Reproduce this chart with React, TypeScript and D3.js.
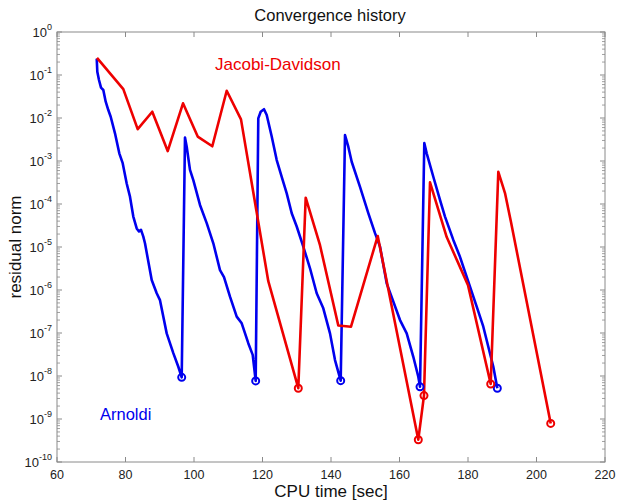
import React from "react";
import * as d3 from "d3";

// ---------- data ----------
const arnoldiTime = [
  71.6, 71.77, 72.26, 72.85, 73.52, 74.22, 74.98, 75.68, 76.93, 78.19, 79.18, 80.35, 81.31, 82.28, 83.27, 83.94, 84.53, 85.2, 85.69, 87.65, 89.11, 90.07, 92.03, 93.96, 95.42, 96.41,
  97.37, 97.87, 98.83, 99.8, 101.75, 103.71, 105.64, 107.59, 108.76, 110.51, 112.47, 113.93, 115.85, 117.14, 118.01,
  118.77, 119.47, 120.44, 121.23, 122.69, 124.15, 125.61, 127.07, 128.53, 129.99, 131.91, 133.87, 135.82, 137.75, 139.71, 141.17, 142.83,
  144.09, 145.05, 146.04, 148.47, 150.89, 152.85, 154.31, 156.26, 160.15, 162.1, 164.03, 165.49, 165.99,
  167.24, 167.94, 169.87, 171.82, 173.28, 175.71, 177.66, 180.58, 182.54, 184.47, 185.93, 187.39, 188.56,
];
const arnoldiResidual = [
  0.24, 0.119, 0.0766, 0.0507, 0.0448, 0.0239, 0.0153, 0.0107, 4.4e-3, 1.51e-3, 8.9e-4, 3.0e-4, 1.48e-4, 5.1e-5, 2.7e-5, 2.3e-5, 2.5e-5, 1.74e-5, 1.22e-5, 1.71e-6, 8.4e-7, 5.8e-7, 9.8e-8, 3.4e-8, 1.64e-8, 9.3e-9,
  3.5e-3, 2.15e-3, 6.2e-4, 3.6e-4, 9.5e-5, 3.6e-5, 1.22e-5, 2.9e-6, 2.0e-6, 7.0e-7, 2.4e-7, 1.68e-7, 5.8e-8, 3.1e-8, 7.7e-9,
  9.8e-3, 1.4e-2, 1.6e-2, 1.17e-2, 3.7e-3, 1.05e-3, 4.3e-4, 1.77e-4, 6.1e-5, 3.0e-5, 1.02e-5, 3.2e-6, 8.4e-7, 3.75e-7, 9.8e-8, 2.35e-8, 7.8e-9,
  4.0e-3, 2.15e-3, 9.6e-4, 2.5e-4, 6.1e-5, 2.1e-5, 1.02e-5, 1.43e-6, 2.0e-7, 9.8e-8, 2.8e-8, 9.6e-9, 5.6e-9,
  2.6e-3, 1.51e-3, 4.3e-4, 1.24e-4, 5.1e-5, 1.46e-5, 5.9e-6, 1.19e-6, 4.1e-7, 1.4e-7, 4.8e-8, 1.64e-8, 5.2e-9,
];
// indices of converged eigenpairs (marked with circles)
const arnoldiConverged = [25, 40, 57, 70, 83];

const jdTime = [
  71.68, 79.36, 83.56, 87.82, 92.32, 96.79, 101.08, 105.34, 109.55, 113.72, 121.69, 130.45, 132.61, 136.79, 142.13, 145.84,
  153.64, 165.49, 167.15, 168.91, 173.78, 180.0, 186.63, 188.85, 190.8, 192.55, 204.15,
];
const jdResidual = [
  0.25, 0.047, 5.5e-3, 1.4e-2, 1.7e-3, 2.2e-2, 3.7e-3, 2.2e-3, 4.3e-2, 9.3e-3, 1.6e-6, 5.2e-9, 1.4e-4, 1.1e-5, 1.5e-7, 1.4e-7,
  1.8e-5, 3.3e-10, 3.5e-9, 3.2e-4, 1.7e-5, 1.3e-6, 6.5e-9, 5.6e-4, 1.8e-4, 3.8e-5, 7.9e-10,
];
const jdConverged = [11, 17, 18, 22, 26];

const xTicks = [60, 80, 100, 120, 140, 160, 180, 200, 220];
const yExponents = [0, -1, -2, -3, -4, -5, -6, -7, -8, -9, -10];

const titleText = "Convergence history";
const xLabel = "CPU time [sec]";
const yLabel = "residual norm";
const jdLabel = "Jacobi-Davidson";
const arnoldiLabel = "Arnoldi";

// ---------- chart ----------
const W = 618;
const H = 501;
const L = 57, R = 605, T = 32, B = 462;
const BLUE = "#0000ee";
const RED = "#ee0000";
const AXIS = "#8a8a8a";
const FONT = "'Liberation Sans', Arial, Helvetica, sans-serif";

export default function App() {
  const x = d3.scaleLinear().domain([60, 220]).range([L, R]);
  const y = d3.scaleLog().domain([1e-10, 1]).range([B, T]);

  const line = d3
    .line<[number, number]>()
    .x((d) => x(d[0]))
    .y((d) => y(d[1]));

  const blueData: [number, number][] = arnoldiTime.map((t, i) => [t, arnoldiResidual[i]]);
  const redData: [number, number][] = jdTime.map((t, i) => [t, jdResidual[i]]);

  const minor: number[] = [];
  for (let e = -10; e < 0; e++) {
    for (let m = 2; m <= 9; m++) minor.push(m * Math.pow(10, e));
  }

  return (
    <div style={{ position: "absolute", left: 0, top: 0 }}>
      <svg width={W} height={H} style={{ display: "block", background: "#fff" }} fontFamily={FONT}>
        <rect x={0} y={0} width={W} height={H} fill="#fff" />
        {/* frame */}
        <rect x={L} y={T} width={R - L} height={B - T} fill="none" stroke={AXIS} strokeWidth={1} />
        {/* x ticks */}
        {xTicks.map((t) => (
          <g key={"xt" + t}>
            <line x1={x(t)} x2={x(t)} y1={B} y2={B - 5} stroke={AXIS} />
            <line x1={x(t)} x2={x(t)} y1={T} y2={T + 5} stroke={AXIS} />
            <text x={x(t)} y={B + 17} textAnchor="middle" fontSize={12.5} fill="#222">
              {t}
            </text>
          </g>
        ))}
        {/* y major ticks */}
        {yExponents.map((e) => {
          const v = Math.pow(10, e);
          return (
            <g key={"yt" + e}>
              <line x1={L} x2={L + 5} y1={y(v)} y2={y(v)} stroke={AXIS} />
              <line x1={R} x2={R - 5} y1={y(v)} y2={y(v)} stroke={AXIS} />
              <text x={L - 5} y={y(v) + 5} textAnchor="end" fontSize={13} fill="#222">
                10
                <tspan dy={-7} fontSize={9}>
                  {e}
                </tspan>
              </text>
            </g>
          );
        })}
        {/* y minor ticks */}
        {minor.map((v, i) => (
          <g key={"ym" + i}>
            <line x1={L} x2={L + 3} y1={y(v)} y2={y(v)} stroke={AXIS} strokeWidth={0.8} />
            <line x1={R} x2={R - 3} y1={y(v)} y2={y(v)} stroke={AXIS} strokeWidth={0.8} />
          </g>
        ))}

        {/* series */}
        <path d={line(blueData) || ""} fill="none" stroke={BLUE} strokeWidth={2.6} strokeLinejoin="round" />
        <path d={line(redData) || ""} fill="none" stroke={RED} strokeWidth={2.6} strokeLinejoin="round" />
        {arnoldiConverged.map((i) => (
          <circle key={"bc" + i} cx={x(arnoldiTime[i])} cy={y(arnoldiResidual[i])} r={3.5} fill="none" stroke={BLUE} strokeWidth={2} />
        ))}
        {jdConverged.map((i) => (
          <circle key={"rc" + i} cx={x(jdTime[i])} cy={y(jdResidual[i])} r={3.5} fill="none" stroke={RED} strokeWidth={2} />
        ))}

        {/* labels */}
        <text x={330} y={21} textAnchor="middle" fontSize={16.5} fill="#111">
          {titleText}
        </text>
        <text x={(L + R) / 2} y={497} textAnchor="middle" fontSize={17} fill="#111">
          {xLabel}
        </text>
        <text transform={`translate(21, ${(T + B) / 2}) rotate(-90)`} textAnchor="middle" fontSize={17} fill="#111">
          {yLabel}
        </text>
        <text x={215} y={70} fontSize={17} fill={RED}>
          {jdLabel}
        </text>
        <text x={100} y={420} fontSize={16.5} fill={BLUE}>
          {arnoldiLabel}
        </text>
      </svg>
    </div>
  );
}
